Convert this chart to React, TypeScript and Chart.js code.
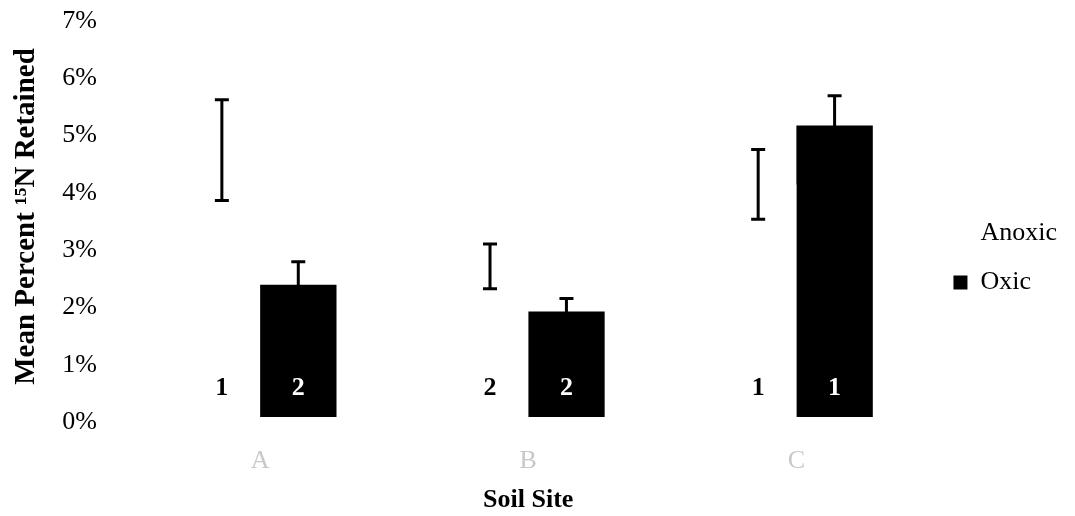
import { useEffect, useRef } from 'react';
import { Chart, registerables } from 'chart.js';

Chart.register(...registerables);

const categories = ['A', 'B', 'C'];
const anoxicMean = [4.66, 2.63, 4.06];
const anoxicErr = [0.88, 0.39, 0.61];
const oxicMean = [2.31, 1.84, 5.09];
const oxicErr = [0.4, 0.23, 0.52];
const anoxicGroups = ['1', '2', '1'];
const oxicGroups = ['2', '2', '1'];
const yMin = 0;
const yMax = 7;
const yStep = 1;

const FONT = "'Liberation Serif', 'Times New Roman', serif";

const errorBarPlugin = {
  id: 'errorBars',
  afterDatasetsDraw(chart: any) {
    const { ctx } = chart;
    const yScale = chart.scales.y;
    chart.data.datasets.forEach((ds: any, di: number) => {
      const meta = chart.getDatasetMeta(di);
      if (!ds.errors) return;
      meta.data.forEach((bar: any, i: number) => {
        const v = ds.data[i];
        const e = ds.errors[i];
        const yTop = yScale.getPixelForValue(v + e);
        const yBot = yScale.getPixelForValue(v - e);
        const x = bar.x;
        ctx.save();
        ctx.strokeStyle = '#000';
        ctx.lineWidth = 3;
        ctx.beginPath();
        ctx.moveTo(x, yTop);
        ctx.lineTo(x, yBot);
        ctx.moveTo(x - 7, yTop);
        ctx.lineTo(x + 7, yTop);
        ctx.moveTo(x - 7, yBot);
        ctx.lineTo(x + 7, yBot);
        ctx.stroke();
        ctx.restore();
      });
    });
  },
};

const groupLabelPlugin = {
  id: 'groupLabels',
  afterDatasetsDraw(chart: any) {
    const { ctx } = chart;
    const yScale = chart.scales.y;
    const base = yScale.getPixelForValue(0);
    chart.data.datasets.forEach((ds: any, di: number) => {
      const meta = chart.getDatasetMeta(di);
      if (!ds.groups) return;
      meta.data.forEach((bar: any, i: number) => {
        ctx.save();
        ctx.fillStyle = ds.groupColor;
        ctx.font = `bold 26px ${FONT}`;
        ctx.textAlign = 'center';
        ctx.textBaseline = 'middle';
        ctx.fillText(ds.groups[i], bar.x, base - 29);
        ctx.restore();
      });
    });
  },
};

export default function App() {
  const ref = useRef<HTMLCanvasElement | null>(null);

  useEffect(() => {
    if (!ref.current) return;
    const chart = new Chart(ref.current, {
      type: 'bar',
      data: {
        labels: categories,
        datasets: [
          {
            label: 'Anoxic',
            data: anoxicMean,
            backgroundColor: '#ffffff',
            borderColor: '#ffffff',
            borderWidth: 0,
            errors: anoxicErr,
            groups: anoxicGroups,
            groupColor: '#000000',
          } as any,
          {
            label: 'Oxic',
            data: oxicMean,
            backgroundColor: '#000000',
            borderColor: '#000000',
            borderWidth: 0,
            errors: oxicErr,
            groups: oxicGroups,
            groupColor: '#ffffff',
          } as any,
        ],
      },
      options: {
        animation: false,
        responsive: false,
        maintainAspectRatio: false,
        layout: { padding: { top: 0, right: 8, bottom: 0, left: 0 } },
        datasets: { bar: { categoryPercentage: 0.57, barPercentage: 1 } },
        scales: {
          x: {
            grid: { display: false, drawTicks: false },
            border: { display: false },
            ticks: { color: '#c8c8c8', font: { family: FONT, size: 26 }, padding: 29 },
            title: {
              display: true,
              text: 'Soil Site',
              color: '#000',
              font: { family: FONT, size: 26, weight: 'bold' },
              padding: { top: 0, bottom: 0 },
            },
            afterFit: (s: any) => { s.height = 99; },
          },
          y: {
            min: yMin,
            max: yMax,
            grid: { display: false, drawTicks: false },
            border: { display: false },
            ticks: {
              stepSize: yStep,
              color: '#000',
              font: { family: FONT, size: 26 },
              padding: 29,
              labelOffset: 5,
              callback: (v: any) => `${v}%`,
            },
            title: {
              display: true,
              text: 'Mean Percent ¹⁵N Retained',
              color: '#000',
              font: { family: FONT, size: 29, weight: 'bold' },
              padding: { top: 9, bottom: 0 },
            },
            afterFit: (s: any) => {
              s.width = 126;
              s.paddingTop = 16;
              s.paddingBottom = 0;
            },
          },
        },
        plugins: {
          legend: {
            position: 'right',
            labels: {
              color: '#000',
              font: { family: FONT, size: 26 },
              boxWidth: 14,
              boxHeight: 14,
              padding: 23,
            },
          },
          tooltip: { enabled: false },
        },
      },
      plugins: [errorBarPlugin, groupLabelPlugin],
    });
    return () => chart.destroy();
  }, []);

  return (
    <div style={{ position: 'absolute', left: 0, top: 0, width: 1075, height: 516, background: '#fff' }}>
      <canvas ref={ref} width={1075} height={516} style={{ width: 1075, height: 516 }} />
    </div>
  );
}
